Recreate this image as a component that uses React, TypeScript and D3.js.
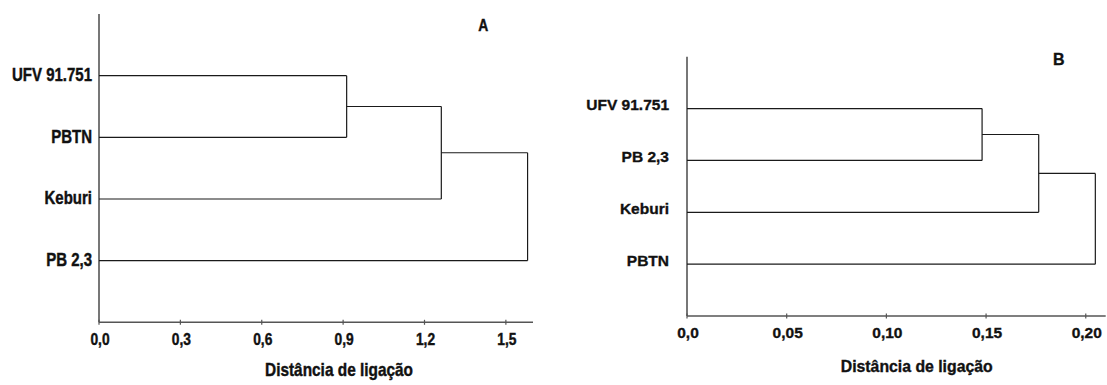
import React from "react";
import * as d3 from "d3";

// Panel A data
const leavesA = ["UFV 91.751", "PBTN", "Keburi", "PB 2,3"];
const mergeHeightsA = [0.913, 1.262, 1.58];
const ticksA = [0, 0.3, 0.6, 0.9, 1.2, 1.5];
const tickLabelsA = ["0,0", "0,3", "0,6", "0,9", "1,2", "1,5"];

// Panel B data
const leavesB = ["UFV 91.751", "PB 2,3", "Keburi", "PBTN"];
const mergeHeightsB = [0.148, 0.1764, 0.2048];
const ticksB = [0, 0.05, 0.1, 0.15, 0.2];
const tickLabelsB = ["0,0", "0,05", "0,10", "0,15", "0,20"];

const axisTitle = "Distância de ligação";
const FONT = "'Liberation Sans', Arial, Helvetica, sans-serif";

type PanelCfg = {
  leaves: string[];
  merges: number[];
  ticks: number[];
  tickLabels: string[];
  xDomain: [number, number];
  xRange: [number, number];
  yRange: [number, number];
  sy: number;
  labelSize: number;
  labelRight: number;
  labelDy: number;
  tickSize: number;
  tickBaseline: number;
  titleSize: number;
  titleX: number;
  titleY: number;
  letter: string;
  letterSize: number;
  letterX: number;
  letterY: number;
};

function T({ x, y, sy, size, anchor, children }: any) {
  return (
    <text
      transform={`translate(${x},${y}) scale(1,${sy})`}
      fontSize={size}
      fontWeight="bold"
      fontFamily={FONT}
      textAnchor={anchor}
      fill="#111"
      stroke="#111"
      strokeWidth={0.35}
    >
      {children}
    </text>
  );
}

function Panel(c: PanelCfg) {
  const x = d3.scaleLinear().domain(c.xDomain).range(c.xRange);
  const y = d3.scaleLinear().domain([0, c.leaves.length + 1]).range(c.yRange);
  const x0 = c.xRange[0];
  const yBottom = c.yRange[1];
  const yTop = c.yRange[0];

  const segs: { x1: number; y1: number; x2: number; y2: number }[] = [];
  let curY = y(1);
  let curX = x(0);
  c.merges.forEach((h, i) => {
    const otherY = y(i + 2);
    const mx = x(h);
    segs.push({ x1: curX, y1: curY, x2: mx, y2: curY });
    segs.push({ x1: x(0), y1: otherY, x2: mx, y2: otherY });
    segs.push({ x1: mx, y1: curY, x2: mx, y2: otherY });
    curY = (curY + otherY) / 2;
    curX = mx;
  });

  return (
    <g>
      <line x1={x0} y1={yTop} x2={x0} y2={yBottom} stroke="#555" strokeWidth={1.6} />
      <line x1={x0} y1={yBottom} x2={c.xRange[1]} y2={yBottom} stroke="#555" strokeWidth={1.6} />
      {c.ticks.map((t, i) => (
        <line key={"tk" + i} x1={x(t)} x2={x(t)} y1={yBottom - 2.5} y2={yBottom + 2.5} stroke="#555" strokeWidth={1.2} />
      ))}
      {c.ticks.map((t, i) => (
        <T key={"tl" + i} x={x(t) + 1} y={c.tickBaseline} sy={c.sy} size={c.tickSize} anchor="middle">
          {c.tickLabels[i]}
        </T>
      ))}
      {segs.map((s, i) => (
        <line key={"s" + i} x1={s.x1} y1={s.y1} x2={s.x2} y2={s.y2} stroke="#1a1a1a" strokeWidth={1.2} />
      ))}
      {c.leaves.map((l, i) => (
        <T key={"l" + i} x={c.labelRight} y={y(i + 1) + c.labelDy} sy={c.sy} size={c.labelSize} anchor="end">
          {l}
        </T>
      ))}
      <T x={c.titleX} y={c.titleY} sy={c.sy} size={c.titleSize} anchor="middle">
        {axisTitle}
      </T>
      <T x={c.letterX} y={c.letterY} sy={c.sy} size={c.letterSize} anchor="middle">
        {c.letter}
      </T>
    </g>
  );
}

export default function App() {
  return (
    <svg
      width={1107}
      height={385}
      style={{ position: "absolute", left: 0, top: 0, background: "#fff" }}
    >
      <rect width={1107} height={385} fill="#fff" />
      <Panel
        leaves={leavesA}
        merges={mergeHeightsA}
        ticks={ticksA}
        tickLabels={tickLabelsA}
        xDomain={[0, 1.6]}
        xRange={[99, 533]}
        yRange={[14, 322.3]}
        sy={1.2}
        labelSize={15}
        labelRight={92}
        labelDy={5.5}
        tickSize={13.8}
        tickBaseline={345}
        titleSize={15.4}
        titleX={339}
        titleY={376}
        letter="A"
        letterSize={13.9}
        letterX={483.3}
        letterY={30.7}
      />
      <Panel
        leaves={leavesB}
        merges={mergeHeightsB}
        ticks={ticksB}
        tickLabels={tickLabelsB}
        xDomain={[0, 0.21]}
        xRange={[687, 1105.7]}
        yRange={[56.7, 316]}
        sy={1}
        labelSize={15.5}
        labelRight={669}
        labelDy={1.5}
        tickSize={15.5}
        tickBaseline={338.3}
        titleSize={15.8}
        titleX={916.7}
        titleY={371.7}
        letter="B"
        letterSize={16}
        letterX={1058.7}
        letterY={65}
      />
    </svg>
  );
}
